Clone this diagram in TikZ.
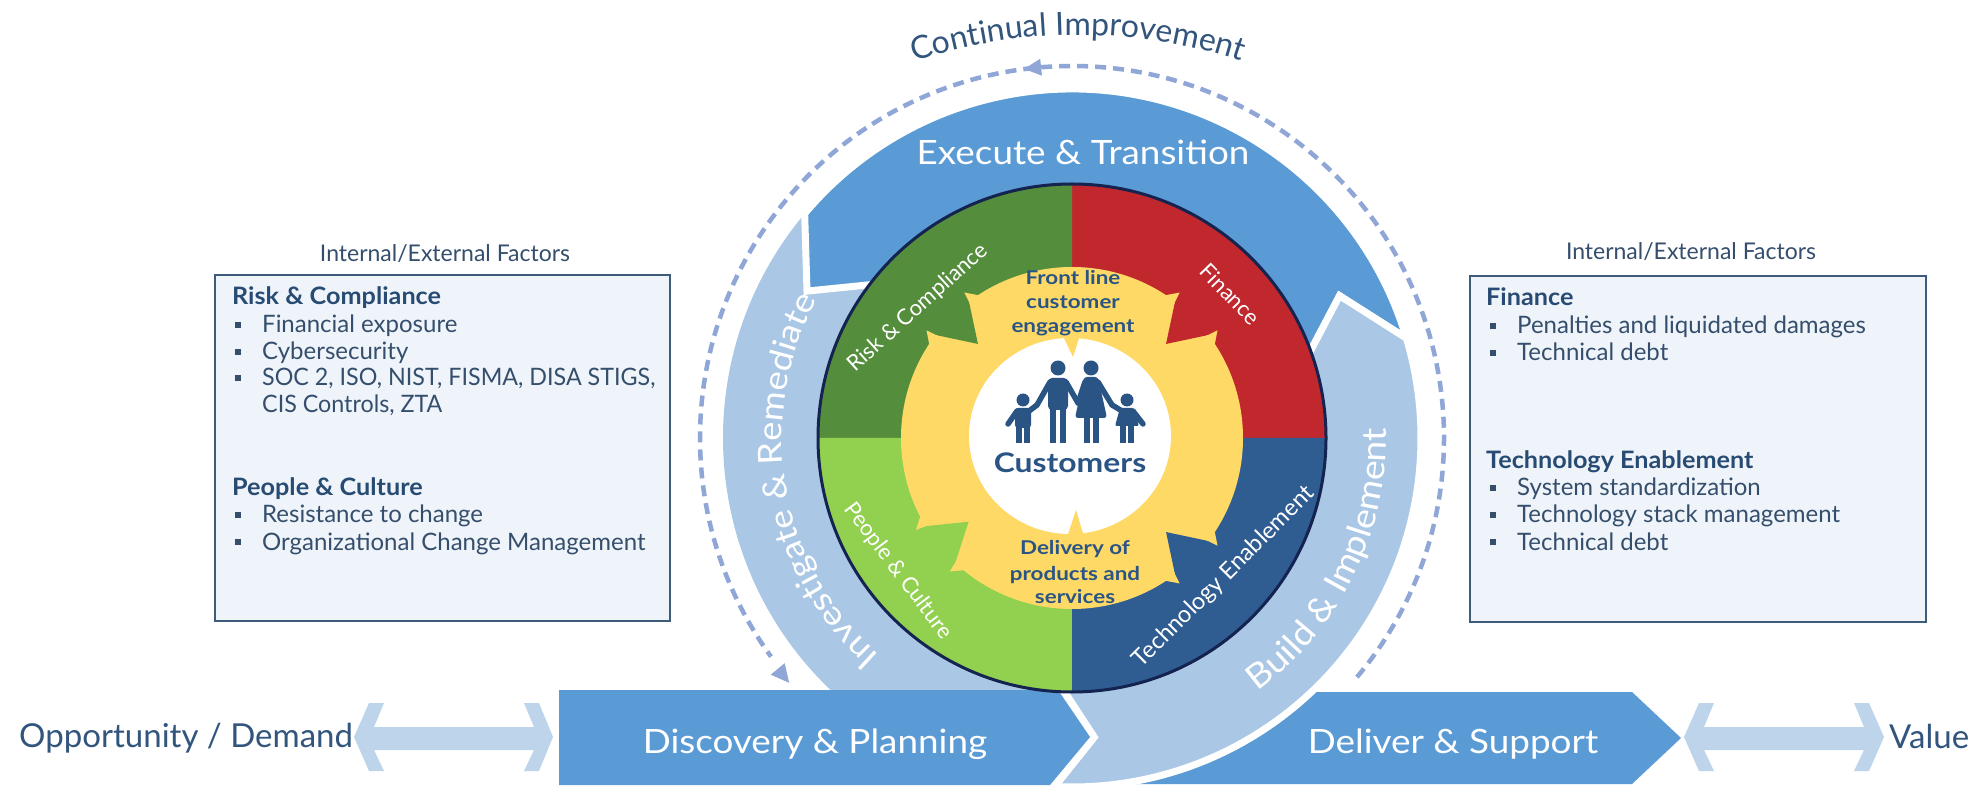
\documentclass[tikz,border=0pt]{standalone}
\usepackage{fontspec}
\setmainfont{Lato}
\newfontfamily\widefont[FakeStretch=1.18]{Lato}
\newfontfamily\stretchfont[FakeStretch=1.1]{Lato}
\newfontfamily\headfont[FakeStretch=1.05]{Lato}
\newfontfamily\narrowfont[FakeStretch=0.97]{Lato}
\usetikzlibrary{decorations.text,calc}
\definecolor{cBlue}{RGB}{91,155,213}
\definecolor{cLight}{RGB}{170,199,229}
\definecolor{cArrow}{RGB}{190,212,235}
\definecolor{cGreen}{RGB}{84,142,60}
\definecolor{cRed}{RGB}{192,40,46}
\definecolor{cLGreen}{RGB}{146,208,80}
\definecolor{cNavy}{RGB}{47,93,145}
\definecolor{cOutline}{RGB}{20,35,80}
\definecolor{cYellow}{RGB}{255,217,102}
\definecolor{cText}{RGB}{42,84,132}
\definecolor{cDash}{RGB}{143,166,214}
\definecolor{cBoxFill}{RGB}{239,244,250}
\definecolor{cBoxLine}{RGB}{62,92,122}
\definecolor{cBody}{RGB}{52,78,108}
\definecolor{cHead}{RGB}{40,75,115}
\definecolor{cTitle}{RGB}{50,85,125}
\newcommand\ringfontL{\stretchfont\fontsize{33}{33}\selectfont\color{white}}
\newcommand\ringfontR{\stretchfont\fontsize{34}{34}\selectfont\color{white}}
\newcommand\cifont{\fontsize{32}{32}\selectfont\color{cTitle}}
\tikzset{
  boxtext/.style={anchor=base west, font=\fontsize{24}{24}\selectfont, text=cBody, inner sep=0},
  boxhead/.style={anchor=base west, font=\headfont\bfseries\fontsize{24}{24}\selectfont, text=cHead, inner sep=0},
  boxtitle/.style={anchor=base, font=\fontsize{23}{23}\selectfont, text=cBody, inner sep=0},
  bigwhite/.style={anchor=base, font=\stretchfont\fontsize{33.5}{33.5}\selectfont, text=white, inner sep=0},
  sidetext/.style={anchor=base, font=\fontsize{33}{33}\selectfont, text=cTitle, inner sep=0},
  quadtext/.style={font=\fontsize{22}{22}\selectfont, text=white, inner sep=0},
  centertext/.style={anchor=base, font=\widefont\bfseries\fontsize{19}{19}\selectfont, text=cText, inner sep=0},
  factbox/.style={fill=cBoxFill, draw=cBoxLine, line width=2},
  sep/.style={draw=white, line width=7, line join=miter},
  limb/.style={cText, line width=5.5, line cap=round},
  leg/.style={cText, line width=6.5},
  dblarrow/.style={fill=cArrow},
}
\begin{document}
\begin{tikzpicture}[x=1pt,y=1pt]
\useasboundingbox (0,0) rectangle (1976,804);
\fill[white] (0,0) rectangle (1976,804);

% ---------- factor boxes ----------
\draw[factbox] (215,183) rectangle (670,529);
\draw[factbox] (1470,182) rectangle (1926,528);
\node[boxtitle] (tl) at (445,542) {Internal/External Factors};
\node[boxtitle] (tr) at (1691,544) {Internal/External Factors};

\node[boxhead] (h1) at (232,499) {Risk \& Compliance};
\node[boxtext] (l1) at (262,471) {Financial exposure};
\node[boxtext] (l2) at (262,444) {Cybersecurity};
\node[boxtext, font=\narrowfont\fontsize{24}{24}\selectfont] (l3) at (262,418) {SOC 2, ISO, NIST, FISMA, DISA STIGS,};
\node[boxtext, font=\narrowfont\fontsize{24}{24}\selectfont] (l4) at (262,391) {CIS Controls, ZTA};
\node[boxhead] (h2) at (232,308) {People \& Culture};
\node[boxtext] (l5) at (262,281) {Resistance to change};
\node[boxtext] (l6) at (262,254) {Organizational Change Management};
\foreach \yy in {471,444,418,281,254}{\fill[cBody] (235,\yy+5) rectangle ++(6,6);}

\node[boxhead] (h3) at (1486,498) {Finance};
\node[boxtext] (r1) at (1517,470) {Penalties and liquidated damages};
\node[boxtext] (r2) at (1517,443) {Technical debt};
\node[boxhead] (h4) at (1486,335) {Technology Enablement};
\node[boxtext] (r3) at (1517,308) {System standardization};
\node[boxtext] (r4) at (1517,281) {Technology stack management};
\node[boxtext] (r5) at (1517,254) {Technical debt};
\foreach \yy in {470,443,308,281,254}{\fill[cBody] (1490,\yy+5) rectangle ++(6,6);}

% ---------- Deliver bar ----------
\fill[cBlue] (1040,112) -- (1632,112) -- (1681,66) -- (1632,20) -- (1040,20) -- cycle;

% ---------- ring arrows ----------
\begin{scope}[shift={(1072,366)}]
  % Investigate & Remediate
  \fill[cLight] (140:349) arc[start angle=140,end angle=262,radius=349]
     -- (262:248) arc[start angle=262,end angle=141.6,radius=248] -- (151:303) -- cycle;
  % Execute & Transition
  \filldraw[fill=cBlue, sep] (16.6:349) arc[start angle=16.6,end angle=140,radius=349]
     -- (151:303) -- (141.6:248) arc[start angle=141.6,end angle=18.8,radius=248] -- (28:303) -- cycle;
  % Build & Implement
  \filldraw[fill=cLight, sep] (-94:349) arc[start angle=-94,end angle=16.6,radius=349]
     -- (28:303) -- (18.8:248) arc[start angle=18.8,end angle=-94,radius=248] -- cycle;
\end{scope}

% ---------- Discovery bar ----------
\draw[white, line width=14, line join=miter] (1058,116) -- (1090,67) -- (1050,17);
\fill[cBlue] (559,114) -- (1058,114) -- (1090,67) -- (1050,19) -- (559,19) -- cycle;

% ---------- double arrows ----------
\fill[dblarrow] (354,67) -- (369,101) -- (384,101) -- (374,77) -- (534,77) -- (524,101) -- (539,101)
  -- (553,67) -- (539,33) -- (524,33) -- (534,54) -- (374,54) -- (384,33) -- (369,33) -- cycle;
\fill[dblarrow] (1684,67) -- (1699,101) -- (1714,101) -- (1704,77) -- (1864,77) -- (1854,101) -- (1869,101)
  -- (1884,67) -- (1869,33) -- (1854,33) -- (1864,54) -- (1704,54) -- (1714,33) -- (1699,33) -- cycle;

% ---------- central disc ----------
\begin{scope}[shift={(1072,366)}]
  \fill[cRed] (0,0) -- (0:254) arc[start angle=0,end angle=90,radius=254] -- cycle;
  \fill[cGreen] (0,0) -- (90:254) arc[start angle=90,end angle=180,radius=254] -- cycle;
  \fill[cLGreen] (0,0) -- (180:254) arc[start angle=180,end angle=270,radius=254] -- cycle;
  \fill[cNavy] (0,0) -- (270:254) arc[start angle=270,end angle=360,radius=254] -- cycle;
  \draw[cOutline, line width=3] (0,0) circle[radius=254];
  % yellow ring
  \fill[cYellow] (0,0) circle[radius=171];
  \fill[cGreen] (126:178) -- (144:178) -- (135:133) -- cycle;
  \fill[cRed] (36:178) -- (54:178) -- (45:133) -- cycle;
  \fill[cLGreen] (210:178) -- (228:178) -- (219:133) -- cycle;
  \fill[cNavy] (306:178) -- (324:178) -- (315:133) -- cycle;
  \foreach \a in {126,36,210,306}{
    \fill[cYellow] (\a-6:162) -- (\a+0.5:181) -- (\a+2:158) -- cycle;
    \fill[cYellow] (\a+24:162) -- (\a+17.5:181) -- (\a+16:158) -- cycle;
  }
  % white centre with notches
  \fill[white] (-2,2) ellipse[x radius=101, y radius=98];
  \fill[cYellow] (-11,106) -- (9,106) -- (1,81) -- cycle;
  \fill[cYellow] (-6,-102) -- (13,-102) -- (4,-72) -- cycle;
\end{scope}

% ---------- family icon ----------
\fill[cText] (1058,436) circle[radius=7.5];
\fill[cText, rounded corners=4] (1048,426) rectangle (1068,394);
\draw[leg] (1053,398) -- (1053,361);
\draw[leg] (1063,398) -- (1063,361);
\draw[limb] (1050,422) -- (1037,399);
\draw[limb] (1066,422) -- (1078,401);
\fill[cText] (1091,436) circle[radius=7.5];
\fill[cText, rounded corners=3] (1084,427) -- (1098,427) -- (1107,386) -- (1075,386) -- cycle;
\draw[leg] (1087,388) -- (1087,361);
\draw[leg] (1096,388) -- (1096,361);
\draw[limb] (1085,422) -- (1078,401);
\draw[limb] (1098,422) -- (1112,399);
\fill[cText] (1023,404) circle[radius=6.5];
\fill[cText, rounded corners=3] (1015,396) rectangle (1031,376);
\draw[leg] (1019,378) -- (1019,361);
\draw[leg] (1027,378) -- (1027,361);
\draw[limb] (1029,393) -- (1037,399);
\draw[limb] (1017,393) -- (1008,380);
\fill[cText] (1127,404) circle[radius=6.5];
\fill[cText, rounded corners=2] (1120,396) -- (1134,396) -- (1139,378) -- (1115,378) -- cycle;
\draw[leg] (1123,380) -- (1123,361);
\draw[leg] (1131,380) -- (1131,361);
\draw[limb] (1122,393) -- (1112,399);
\draw[limb] (1133,393) -- (1143,380);

% ---------- centre texts ----------
\node[anchor=base, font=\widefont\bfseries\fontsize{27}{27}\selectfont, text=cText, inner sep=0] (cust) at (1070,331) {Customers};
\node[centertext] (f1) at (1073,519) {Front line};
\node[centertext] (f2) at (1073,495) {customer};
\node[centertext] (f3) at (1073,471) {engagement};
\node[centertext] (d1) at (1075,249) {Delivery of};
\node[centertext] (d2) at (1075,224) {products and};
\node[centertext] (d3) at (1075,201) {services};

% ---------- quadrant labels ----------
\node[quadtext, rotate=42] (qrisk) at (918,496) {Risk \& Compliance};
\node[quadtext, rotate=-46] (qfin) at (1230,510) {Finance};
\node[quadtext, rotate=-53] (qpeople) at (898,233) {People \& Culture};
\node[quadtext, rotate=45, font=\fontsize{23.5}{23.5}\selectfont] (qtech) at (1224,227) {Technology Enablement};

% ---------- ring labels ----------
\node[bigwhite] (exec) at (1083,639) {Execute \& Transition};
\begin{scope}[shift={(1072,366)}]
  \path[decorate, decoration={text along path, text align=center,
     text={|\ringfontL|Investigate {\&} Remediate}}]
     (245:290) arc[start angle=245,end angle=135,radius=290];
  \path[decorate, decoration={text along path, text align=center,
     text={|\ringfontR|Build {\&} Implement}}]
     (-60:314) arc[start angle=-60,end angle=8,radius=314];
  % continual improvement dashed loop
  \draw[cDash, line width=4.5, dash pattern=on 11pt off 7pt] (-40:372) arc[start angle=-40,end angle=216,radius=372];
  \fill[cDash, shift={(219.5:374)}, rotate=309.5] (9,0) -- (-9,9) -- (-9,-9) -- cycle;
  \fill[cDash, shift={(96:372)}, rotate=186] (9,0) -- (-8,8.5) -- (-8,-8.5) -- cycle;
\end{scope}
\begin{scope}[shift={(1078,249)}]
  \path[decorate, decoration={text along path, text align=center,
     text={|\cifont|Continual Improvement}}]
     (118:520) arc[start angle=118,end angle=62,radius=520];
\end{scope}

% ---------- bar texts ----------
\node[bigwhite] (disc) at (815,51) {Discovery \& Planning};
\node[bigwhite] (deliv) at (1453,51) {Deliver \& Support};
\node[sidetext, anchor=base west] (opp) at (19,57) {Opportunity / Demand};
\node[sidetext, anchor=base west] (val) at (1889,56) {Value};
\end{tikzpicture}
\end{document}
